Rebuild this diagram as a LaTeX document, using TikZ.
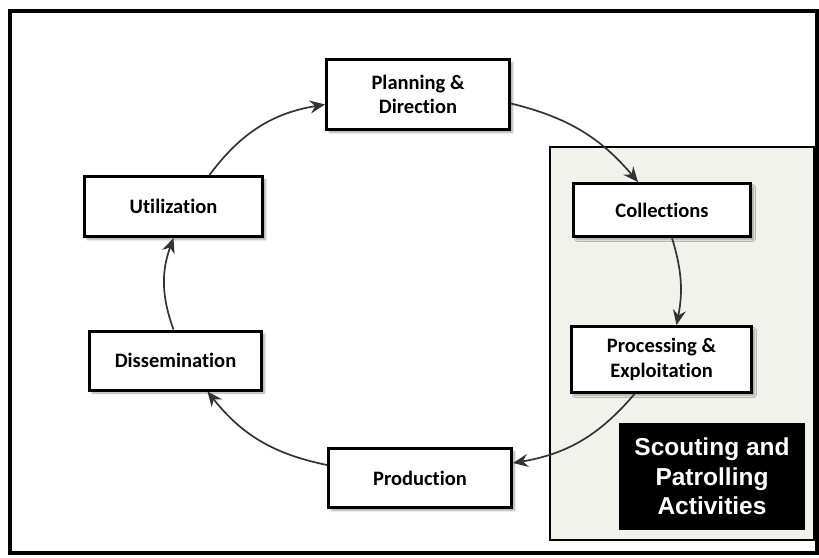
\documentclass[tikz,border=0pt]{standalone}
\usepackage{fontspec}
\setmainfont{Carlito}[Ligatures=NoCommon]
\newfontfamily\scoutfont{Liberation Sans}
\usepackage{tikz}
\usetikzlibrary{arrows.meta,shapes,positioning,shadows.blur}
\definecolor{panelgray}{RGB}{242,242,236}
\definecolor{arcgray}{RGB}{51,51,51}
\tikzstyle{stage} = [rectangle, draw=black, line width=3pt, fill=white, text centered, align=center, inner sep=0pt, font=\fontsize{20.5}{24.5}\selectfont\bfseries, blur shadow={shadow xshift=3pt, shadow yshift=-3pt, shadow blur steps=6, shadow opacity=35}]
\tikzstyle{scoutbox} = [rectangle, fill=black, text=white, text centered, align=center, inner sep=0pt, minimum width=186pt, minimum height=107pt, font=\scoutfont\fontsize{24.5}{29.5}\selectfont\bfseries]
\tikzstyle{panelbox} = [draw=black, line width=2pt, fill=panelgray]
\tikzstyle{arrow} = [line width=1.7pt, draw=arcgray, -{Stealth[length=15pt, width=13pt, inset=5pt]}]

\begin{document}
\begin{tikzpicture}[x=1pt, y=1pt]
                    \useasboundingbox (0,0) rectangle (819,-557);
                    \draw [line width=3.5pt] (10,-11) rectangle (817,-553);
                    \draw [panelbox] (550,-147) rectangle (814,-540);
                    \node (Plan) [stage, minimum width=183pt, minimum height=70pt] at (418,-94.5) {Planning \&\\Direction};
                    \node (Coll) [stage, minimum width=177pt, minimum height=53pt] at (662,-210) {Collections};
                    \node (Proc) [stage, minimum width=180pt, minimum height=66pt] at (661.5,-359.5) {Processing \&\\Exploitation};
                    \node (Prod) [stage, minimum width=183pt, minimum height=59pt] at (420,-478) {Production};
                    \node (Diss) [stage, minimum width=172pt, minimum height=59pt] at (175.5,-360.5) {Dissemination};
                    \node (Util) [stage, minimum width=178pt, minimum height=60pt] at (173.5,-206.5) {Utilization};
                    \node (Scout) [scoutbox] at (712,-476.5) {Scouting and\\Patrolling\\Activities};
                    \draw [arrow] ([xshift=36pt]Util.north) to [bend left=22] ([yshift=-10pt]Plan.west);
                    \draw [arrow] ([yshift=-9pt]Plan.east) to [bend left=18] ([xshift=-24pt]Coll.north);
                    \draw [arrow] ([xshift=10pt]Coll.south) to [bend left=14] ([xshift=15pt]Proc.north);
                    \draw [arrow] ([xshift=-27pt]Proc.south) to [bend left=20] ([yshift=15pt]Prod.east);
                    \draw [arrow] ([yshift=13pt]Prod.west) to [bend left=20] ([xshift=32pt]Diss.south);
                    \draw [arrow] ([xshift=-2pt]Diss.north) to [bend left=20] ([xshift=0pt]Util.south);
                \end{tikzpicture}
\end{document}
